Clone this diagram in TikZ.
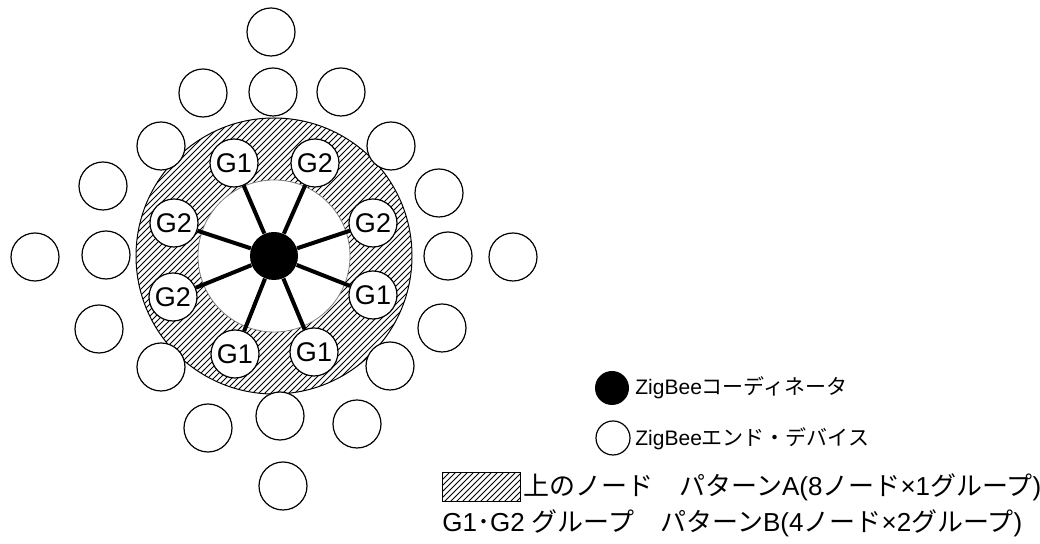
\documentclass[tikz,border=0pt]{standalone}
\usepackage{fontspec}
\setmainfont{Liberation Sans}
\newfontfamily\jpfont{Noto Sans CJK JP}
\newcommand{\jp}[1]{{\jpfont #1}}
\usetikzlibrary{patterns}

\begin{document}
\begin{tikzpicture}[x=.5pt,y=-.5pt,
    dev/.style={circle,draw,fill=white,line width=.6pt,minimum size=24pt,inner sep=0pt},
    grp/.style={dev,font=\fontsize{13.5}{13.5}\selectfont},
    hub/.style={circle,fill=black,minimum size=24pt,inner sep=0pt},
    spoke/.style={line width=2pt},
    keytext/.style={anchor=west,inner sep=0pt,font=\fontsize{10.5}{10.5}\selectfont},
    bigtext/.style={anchor=west,inner sep=0pt,font=\fontsize{13}{13}\selectfont}]
    \useasboundingbox (0,0) rectangle (1040,544);

    % hatched ring
    \fill[pattern=north east lines,even odd rule] (274,256) circle (69pt) (274,256) circle (38pt);
    \draw[line width=.5pt] (274,256) circle (69pt);
    \draw[line width=.4pt,gray] (274,256) circle (38pt);

    \node[hub] (zc) at (274,256) {};

    \node[grp] (g1) at (234,163) {G1};
    \node[grp] (g2) at (315,163) {G2};
    \node[grp] (g3) at (174,223) {G2};
    \node[grp] (g4) at (373,223) {G2};
    \node[grp] (g5) at (173,297) {G2};
    \node[grp] (g6) at (373,295) {G1};
    \node[grp] (g7) at (235,354) {G1};
    \node[grp] (g8) at (314,352) {G1};

    \draw[spoke] (zc)--(g1) (zc)--(g2) (zc)--(g3) (zc)--(g4);
    \draw[spoke] (zc)--(g5) (zc)--(g6) (zc)--(g7) (zc)--(g8);

    % end devices
    \node[dev] (e1) at (271,32) {};
    \node[dev] (e2) at (203,93) {};
    \node[dev] (e3) at (273,92) {};
    \node[dev] (e4) at (341,92) {};
    \node[dev] (e5) at (161,146) {};
    \node[dev] (e6) at (391,146) {};
    \node[dev] (e7) at (103,186) {};
    \node[dev] (e8) at (439,193) {};
    \node[dev] (e9) at (35,257) {};
    \node[dev] (e10) at (106,255) {};
    \node[dev] (e11) at (448,256) {};
    \node[dev] (e12) at (513,257) {};
    \node[dev] (e13) at (99,329) {};
    \node[dev] (e14) at (442,328) {};
    \node[dev] (e15) at (161,367) {};
    \node[dev] (e16) at (390,366) {};
    \node[dev] (e17) at (208,428) {};
    \node[dev] (e18) at (280,416) {};
    \node[dev] (e19) at (357,424) {};
    \node[dev] (e20) at (283,486) {};

    % legend
    \node[hub,minimum size=17pt] (khub) at (612,388) {};
    \node[dev,minimum size=17pt] (kdev) at (613,438) {};
    \node[keytext] (thub) at (635,388) {ZigBee\jp{コーディネータ}};
    \node[keytext] (tdev) at (635,439) {ZigBee\jp{エンド・デバイス}};
    \node[draw,line width=.5pt,pattern=north east lines,anchor=north west,
      minimum width=39pt,minimum height=14.5pt,inner sep=0pt] (khatch) at (442,472) {};
    \node[bigtext] (ta) at (523,487) {\jp{上のノード　パターン}A(8\jp{ノード}×1\jp{グループ})};
    \node[bigtext] (tb) at (442,523) {G1\jp{･}G2 \jp{グループ　パターン}B(4\jp{ノード}×2\jp{グループ})};
\end{tikzpicture}
\end{document}
